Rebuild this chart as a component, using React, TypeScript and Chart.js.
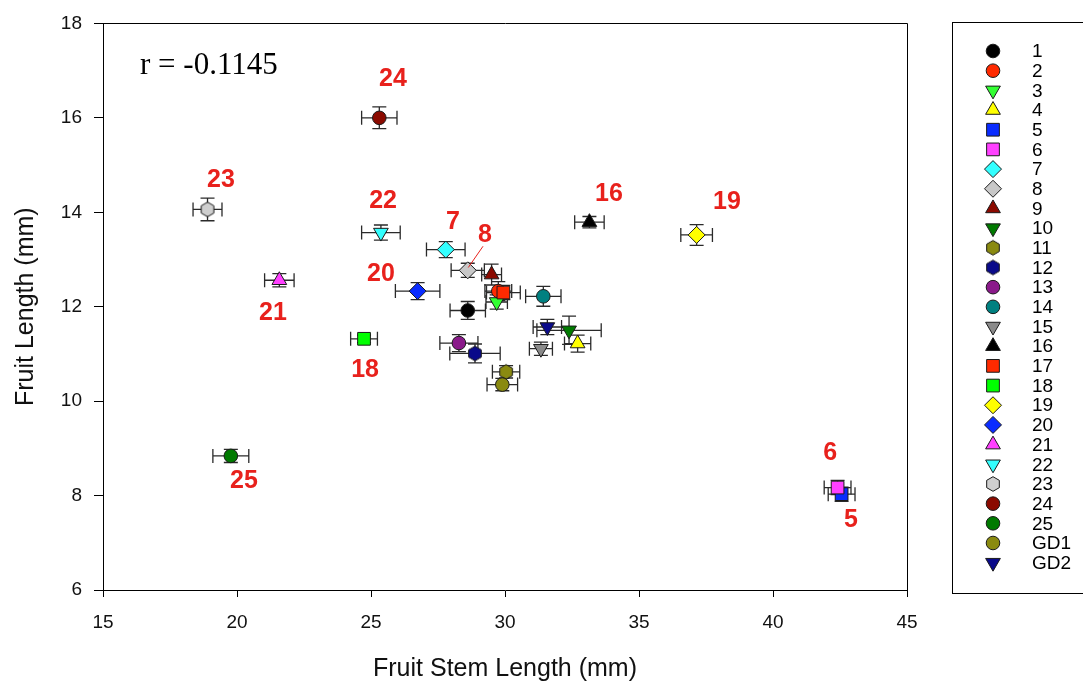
import React, { useEffect, useRef } from 'react';
import { Chart, registerables } from 'chart.js';
import { drawPoint } from 'chart.js/helpers';

Chart.register(...registerables);

const seriesNames = ['1', '2', '3', '4', '5', '6', '7', '8', '9', '10', '11', '12', '13', '14', '15', '16', '17', '18', '19', '20', '21', '22', '23', '24', '25', 'GD1', 'GD2'];
const stemLength = [28.61, 29.75, 29.69, 32.71, 42.56, 42.41, 27.79, 28.61, 29.5, 32.39, 30.04, 28.88, 28.28, 31.43, 31.34, 33.15, 29.94, 24.74, 37.15, 26.74, 21.58, 25.37, 18.9, 25.31, 19.77, 29.9, 31.58];
const fruitLength = [11.92, 12.33, 12.1, 11.22, 8.03, 8.17, 13.21, 12.77, 12.68, 11.5, 10.62, 11.01, 11.23, 12.22, 11.11, 13.79, 12.3, 11.32, 13.52, 12.33, 12.56, 13.57, 14.06, 16.0, 8.84, 10.35, 11.57];
const stemErr = [0.66, 0.5, 0.4, 0.49, 0.5, 0.5, 0.72, 0.62, 0.37, 1.2, 0.51, 0.94, 0.71, 0.66, 0.43, 0.55, 0.63, 0.5, 0.59, 0.83, 0.55, 0.72, 0.54, 0.66, 0.67, 0.57, 0.53];
const lengthErr = [0.19, 0.2, 0.15, 0.18, 0.15, 0.15, 0.17, 0.15, 0.22, 0.3, 0.13, 0.2, 0.18, 0.21, 0.14, 0.12, 0.15, 0.08, 0.22, 0.18, 0.14, 0.16, 0.24, 0.23, 0.14, 0.13, 0.16];
const seriesColors = ['#000000', '#ff2a00', '#33ff33', '#ffff00', '#0a2cff', '#ff40ff', '#33ffff', '#c8c8c8', '#8b0a00', '#007a00', '#8a8a10', '#0a0a8a', '#8a1a8a', '#008080', '#8a8a8a', '#000000', '#ff2a00', '#00ff00', '#ffff00', '#0a2cff', '#ff40ff', '#33ffff', '#cfcfcf', '#8b0a00', '#007a00', '#8a8a10', '#0a0a8a'];
const seriesShapes = ['circle', 'circle', 'down', 'up', 'rect', 'rect', 'diamond', 'diamond', 'up', 'down', 'hex', 'hex', 'circle', 'circle', 'down', 'up', 'rect', 'rect', 'diamond', 'diamond', 'up', 'down', 'hex', 'circle', 'circle', 'circle', 'down'];

const annotationText = ['24', '23', '22', '7', '8', '16', '19', '20', '21', '18', '25', '6', '5'];
const annotationX = [25.82, 19.4, 25.45, 28.06, 29.25, 33.88, 38.28, 25.37, 21.34, 24.78, 20.26, 42.13, 42.91];
const annotationY = [16.81, 14.69, 14.24, 13.79, 13.51, 14.38, 14.22, 12.7, 11.86, 10.65, 8.3, 8.9, 7.48];
const leaderFrom = [29.18, 13.28];
const leaderTo = [28.63, 12.83];

const corrText = 'r = -0.1145';
const xTitle = 'Fruit Stem Length (mm)';
const yTitle = 'Fruit Length (mm)';

const SANS = '"Liberation Sans", Arial, sans-serif';

function makeHex(color: string, r: number): HTMLCanvasElement {
  const s = Math.ceil(r * 2 + 3);
  const c = document.createElement('canvas');
  c.width = s;
  c.height = s;
  const g = c.getContext('2d')!;
  const cx = s / 2;
  const cy = s / 2;
  g.beginPath();
  for (let k = 0; k < 6; k++) {
    const a = -Math.PI / 2 + (k * Math.PI) / 3;
    const px = cx + Math.cos(a) * r;
    const py = cy + Math.sin(a) * r;
    if (k === 0) g.moveTo(px, py);
    else g.lineTo(px, py);
  }
  g.closePath();
  g.fillStyle = color;
  g.fill();
  g.lineWidth = 1;
  g.strokeStyle = '#1a1a1a';
  g.stroke();
  return c;
}

function styleFor(shape: string, color: string, scale = 1) {
  switch (shape) {
    case 'circle':
      return { pointStyle: 'circle' as any, rotation: 0, radius: 6.8 * scale };
    case 'up':
      return { pointStyle: 'triangle' as any, rotation: 0, radius: 8.5 * scale };
    case 'down':
      return { pointStyle: 'triangle' as any, rotation: 180, radius: 8.5 * scale };
    case 'rect':
      return { pointStyle: 'rect' as any, rotation: 0, radius: 9 * scale };
    case 'diamond':
      return { pointStyle: 'rectRot' as any, rotation: 0, radius: 8.5 * scale };
    default:
      return { pointStyle: makeHex(color, 7.3 * scale) as any, rotation: 0, radius: 7.3 * scale };
  }
}

export default function App() {
  const ref = useRef<HTMLCanvasElement>(null);

  useEffect(() => {
    const canvas = ref.current!;
    const styles = seriesNames.map((_, i) => styleFor(seriesShapes[i], seriesColors[i]));

    const datasets = seriesNames.map((name, i) => ({
      label: name,
      data: [{ x: stemLength[i], y: fruitLength[i] }],
      pointStyle: styles[i].pointStyle,
      pointRotation: styles[i].rotation,
      pointRadius: styles[i].radius,
      pointBackgroundColor: seriesColors[i],
      pointBorderColor: '#1a1a1a',
      pointBorderWidth: 1,
      order: seriesNames.length - i,
    }));

    const errorBars = {
      id: 'errorBars',
      beforeDatasetsDraw(chart: any) {
        const { ctx } = chart;
        const xs = chart.scales.x;
        const ys = chart.scales.y;
        ctx.save();
        ctx.strokeStyle = '#2a2a2a';
        ctx.lineWidth = 1.3;
        const cap = 7;
        for (let i = 0; i < seriesNames.length; i++) {
          const px = xs.getPixelForValue(stemLength[i]);
          const py = ys.getPixelForValue(fruitLength[i]);
          const x1 = xs.getPixelForValue(stemLength[i] - stemErr[i]);
          const x2 = xs.getPixelForValue(stemLength[i] + stemErr[i]);
          const y1 = ys.getPixelForValue(fruitLength[i] + lengthErr[i]);
          const y2 = ys.getPixelForValue(fruitLength[i] - lengthErr[i]);
          ctx.beginPath();
          ctx.moveTo(x1, py);
          ctx.lineTo(x2, py);
          ctx.moveTo(x1, py - cap);
          ctx.lineTo(x1, py + cap);
          ctx.moveTo(x2, py - cap);
          ctx.lineTo(x2, py + cap);
          ctx.moveTo(px, y1);
          ctx.lineTo(px, y2);
          ctx.moveTo(px - cap, y1);
          ctx.lineTo(px + cap, y1);
          ctx.moveTo(px - cap, y2);
          ctx.lineTo(px + cap, y2);
          ctx.stroke();
        }
        ctx.restore();
      },
    };

    const extras = {
      id: 'extras',
      afterDraw(chart: any) {
        const { ctx, chartArea } = chart;
        const xs = chart.scales.x;
        const ys = chart.scales.y;
        ctx.save();
        // frame top + right
        ctx.strokeStyle = '#000';
        ctx.lineWidth = 1;
        ctx.beginPath();
        ctx.moveTo(Math.round(chartArea.left) + 0.5, Math.round(chartArea.top) + 0.5);
        ctx.lineTo(Math.round(chartArea.right) + 0.5, Math.round(chartArea.top) + 0.5);
        ctx.lineTo(Math.round(chartArea.right) + 0.5, Math.round(chartArea.bottom) + 0.5);
        ctx.stroke();

        // leader line for label 8
        ctx.strokeStyle = '#e8211c';
        ctx.lineWidth = 1;
        ctx.beginPath();
        ctx.moveTo(xs.getPixelForValue(leaderFrom[0]), ys.getPixelForValue(leaderFrom[1]));
        ctx.lineTo(xs.getPixelForValue(leaderTo[0]), ys.getPixelForValue(leaderTo[1]));
        ctx.stroke();

        // red annotations
        ctx.fillStyle = '#e8211c';
        ctx.font = `bold 25px ${SANS}`;
        ctx.textAlign = 'center';
        ctx.textBaseline = 'middle';
        for (let i = 0; i < annotationText.length; i++) {
          ctx.fillText(annotationText[i], xs.getPixelForValue(annotationX[i]), ys.getPixelForValue(annotationY[i]));
        }

        // correlation text
        ctx.fillStyle = '#000';
        ctx.font = '31px "Liberation Serif", "Times New Roman", serif';
        ctx.textAlign = 'left';
        ctx.textBaseline = 'alphabetic';
        ctx.fillText(corrText, chartArea.left + 37, chartArea.top + 51);

        // legend box
        const lx = 952.5;
        const ly = 22.5;
        const lb = 593.5;
        ctx.strokeStyle = '#000';
        ctx.lineWidth = 1;
        ctx.strokeRect(lx, ly, 200, lb - ly);
        ctx.font = `19px ${SANS}`;
        ctx.textAlign = 'left';
        ctx.textBaseline = 'middle';
        for (let i = 0; i < seriesNames.length; i++) {
          const y = 51 + i * 19.68;
          const st = styleFor(seriesShapes[i], seriesColors[i]);
          ctx.fillStyle = seriesColors[i];
          ctx.strokeStyle = '#1a1a1a';
          ctx.lineWidth = 1;
          drawPoint(ctx, { pointStyle: st.pointStyle, rotation: st.rotation, radius: st.radius, borderWidth: 1 } as any, 993, y);
          ctx.fillStyle = '#000';
          ctx.fillText(seriesNames[i], 1032, y + 1);
        }
        ctx.restore();
      },
    };

    const chart = new Chart(canvas, {
      type: 'scatter',
      data: { datasets: datasets as any },
      options: {
        animation: false,
        responsive: false,
        events: [],
        layout: { padding: { left: 0, top: 23, right: 176, bottom: 0 } },
        plugins: { legend: { display: false }, tooltip: { enabled: false } },
        scales: {
          x: {
            type: 'linear',
            min: 15,
            max: 45,
            afterFit: (s: any) => {
              s.height = 94;
            },
            ticks: { stepSize: 5, color: '#111', font: { size: 19, family: SANS }, padding: 14 },
            grid: { display: true, drawOnChartArea: false, drawTicks: true, tickLength: 7, color: '#000', tickColor: '#000' },
            border: { display: true, color: '#000', width: 1 },
            title: { display: true, text: xTitle, color: '#111', font: { size: 25, family: SANS }, padding: { top: 0, bottom: 0 } },
          },
          y: {
            type: 'linear',
            min: 6,
            max: 18,
            afterFit: (s: any) => {
              s.width = 103;
            },
            ticks: { stepSize: 2, color: '#111', font: { size: 19, family: SANS }, padding: 12 },
            grid: { display: true, drawOnChartArea: false, drawTicks: true, tickLength: 9, color: '#000', tickColor: '#000' },
            border: { display: true, color: '#000', width: 1 },
            title: { display: true, text: yTitle, color: '#111', font: { size: 25, family: SANS }, padding: { top: 11, bottom: 0 } },
          },
        },
      },
      plugins: [errorBars, extras],
    });
    return () => chart.destroy();
  }, []);

  return (
    <div style={{ position: 'absolute', left: 0, top: 0, width: 1083, height: 684, background: '#fff' }}>
      <canvas ref={ref} width={1083} height={684} style={{ display: 'block', width: 1083, height: 684 }} />
    </div>
  );
}
